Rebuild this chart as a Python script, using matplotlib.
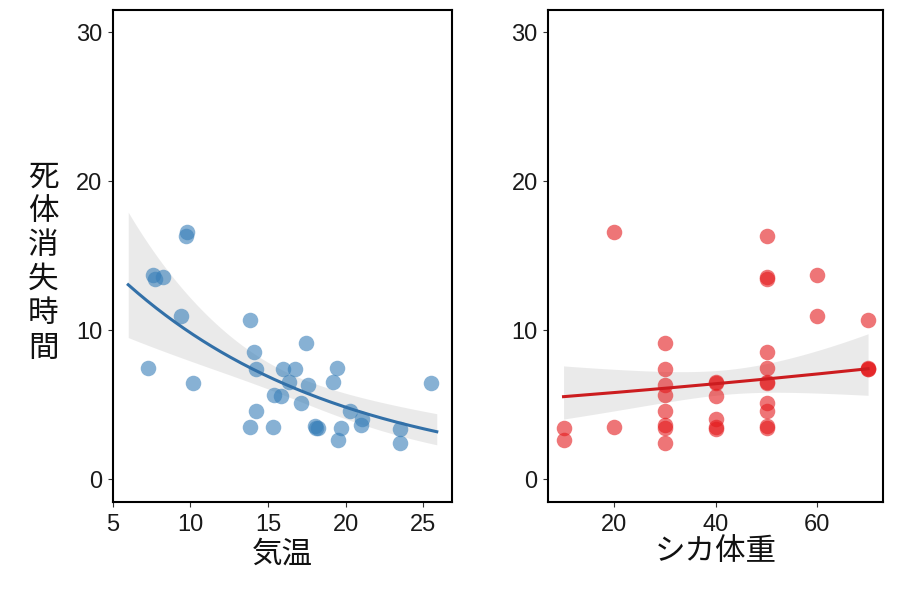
import numpy as np
import matplotlib
matplotlib.use("Agg")
import matplotlib.pyplot as plt

plt.rcParams['font.family'] = ['Liberation Sans', 'Noto Sans CJK JP', 'DejaVu Sans']

# ---- data (one row per carcass) ----
temp = [9.76, 9.72, 7.61, 8.26, 7.72, 9.40, 13.84, 17.45, 14.12, 7.25,
        19.42, 14.23, 15.95, 16.74, 19.17, 16.35, 10.15, 25.48, 17.60, 15.39,
        15.82, 17.11, 14.23, 20.28, 21.03, 20.97, 18.03, 13.84, 15.34, 18.24,
        19.68, 23.50, 18.10, 19.53, 23.50]
weight = [20, 50, 60, 50, 50, 60, 70, 30, 50, 70,
          50, 70, 30, 70, 40, 50, 50, 40, 30, 30,
          40, 50, 50, 30, 40, 30, 50, 20, 40, 10,
          30, 40, 50, 10, 30]
time = [16.6, 16.3, 13.7, 13.6, 13.45, 10.95, 10.67, 9.13, 8.55, 7.5,
        7.45, 7.4, 7.4, 7.4, 6.55, 6.5, 6.45, 6.45, 6.35, 5.69,
        5.58, 5.11, 4.62, 4.62, 4.02, 3.62, 3.55, 3.51, 3.51, 3.44,
        3.44, 3.4, 3.44, 2.62, 2.45]
temp_range = [6.0, 25.87]
weight_range = [10, 70]

xlabels = ['気温', 'シカ体重']
ylabel = '死体消失時間'
yticks = [0, 10, 20, 30]
xticks_temp = [5, 10, 15, 20, 25]
xticks_weight = [20, 40, 60]


def gamma_glm(X, y):
    beta = np.zeros(X.shape[1]); beta[0] = np.log(y.mean())
    for _ in range(200):
        eta = X @ beta
        mu = np.exp(eta)
        z = eta + (y - mu) / mu
        nb = np.linalg.lstsq(X, z, rcond=None)[0]
        done = np.max(np.abs(nb - beta)) < 1e-12
        beta = nb
        if done:
            break
    mu = np.exp(X @ beta)
    n, p = X.shape
    phi = np.sum(((y - mu) / mu) ** 2) / (n - p)
    cov = phi * np.linalg.inv(X.T @ X)
    return beta, cov


x_t = np.asarray(temp, float)
x_w = np.asarray(weight, float)
y = np.asarray(time, float)
X = np.column_stack([np.ones_like(y), x_t, x_w])
beta, cov = gamma_glm(X, y)


def partial(idx, grid):
    G = np.tile(X.mean(axis=0), (len(grid), 1))
    G[:, idx] = grid
    eta = G @ beta
    se = np.sqrt(np.einsum('ij,jk,ik->i', G, cov, G))
    return np.exp(eta), np.exp(eta - 1.96 * se), np.exp(eta + 1.96 * se)


W, H = 897, 600
fig = plt.figure(figsize=(W / 100, H / 100), dpi=100)

def ax_rect(x0, x1, y0, y1):
    return [x0 / W, 1 - y1 / H, (x1 - x0) / W, (y1 - y0) / H]

ax1 = fig.add_axes(ax_rect(112.7, 452.3, 10, 501.7))
ax2 = fig.add_axes(ax_rect(548.3, 883.3, 10, 501.7))

blue_pt = '#377EB8'; blue_ln = '#3270a8'
red_pt = '#E41A1C'; red_ln = '#cc1c1f'

panels = [
    (ax1, x_t, 1, temp_range, blue_pt, blue_ln, xticks_temp, (5.0, 26.87)),
    (ax2, x_w, 2, weight_range, red_pt, red_ln, xticks_weight, (7.0, 73.0)),
]
for ax, x, idx, rng, cp, cl, xt, xl in panels:
    grid = np.linspace(rng[0], rng[1], 200)
    fit, lo, hi = partial(idx, grid)
    ax.fill_between(grid, lo, hi, color='#999999', alpha=0.2, linewidth=0, zorder=1)
    ax.scatter(x, y, s=125, color=cp, alpha=0.6, linewidths=0, zorder=2)
    ax.plot(grid, fit, color=cl, lw=2.2, zorder=3)
    ax.set_xlim(*xl)
    ax.set_ylim(-1.5, 31.5)
    ax.set_xticks(xt)
    ax.set_yticks(yticks)
    for s in ax.spines.values():
        s.set_linewidth(1.5)
        s.set_color('black')
    ax.tick_params(axis='both', length=3.6, width=0.8, color='#333333',
                   labelsize=17, labelcolor='#1a1a1a')
    ax.tick_params(axis='x', pad=5.5)
    ax.tick_params(axis='y', pad=4)

cjk = ['Noto Sans CJK JP', 'DejaVu Sans']
for i, ch in enumerate(ylabel):
    fig.text(43.3 / W, 1 - (177 + 34.2 * i) / H, ch, family=cjk, fontsize=22,
             ha='center', va='center', color='#111111')
fig.text(282.5 / W, 1 - 554 / H, xlabels[0], family=cjk, fontsize=22,
         ha='center', va='center', color='#111111')
fig.text(715.8 / W, 1 - 552 / H, xlabels[1], family=cjk, fontsize=22,
         ha='center', va='center', color='#111111')

fig.savefig('out.png', dpi=100)
